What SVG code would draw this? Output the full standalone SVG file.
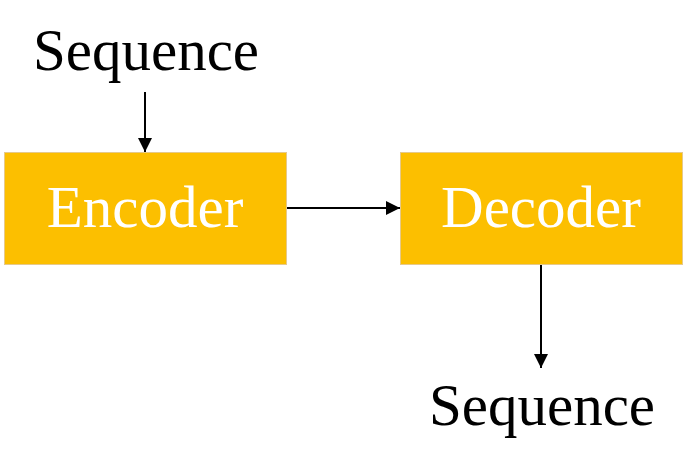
<svg xmlns="http://www.w3.org/2000/svg" width="687" height="468" viewBox="0 0 687 468">
<defs>
<style>
.box{fill:#FCBF00;stroke:#E6C98A;stroke-width:1}
.lbl{font-family:"Liberation Serif","Times New Roman",serif;font-size:59px;text-anchor:middle}
.in{fill:#FFFFFF}
.out{fill:#000000}
.edge{stroke:#000;stroke-width:2;fill:none}
</style>
<marker id="ah" markerWidth="14" markerHeight="14" refX="14" refY="7" orient="auto" markerUnits="userSpaceOnUse">
<path d="M0,0 L14,7 L0,14 Z" fill="#000"/>
</marker>
</defs>
<g id="seq-in"><text class="lbl out" x="146" y="70">Sequence</text></g>
<g id="encoder">
<rect class="box" x="4.5" y="152.5" width="282" height="112"/>
<text class="lbl in" x="145" y="227">Encoder</text>
</g>
<g id="decoder">
<rect class="box" x="400.5" y="152.5" width="282" height="112"/>
<text class="lbl in" x="541" y="227">Decoder</text>
</g>
<g id="seq-out"><text class="lbl out" x="542" y="425">Sequence</text></g>
<g id="connectors">
<line class="edge" x1="145" y1="92" x2="145" y2="152" marker-end="url(#ah)"/>
<line class="edge" x1="287" y1="208" x2="400" y2="208" marker-end="url(#ah)"/>
<line class="edge" x1="541" y1="265" x2="541" y2="368" marker-end="url(#ah)"/>
</g>
</svg>
